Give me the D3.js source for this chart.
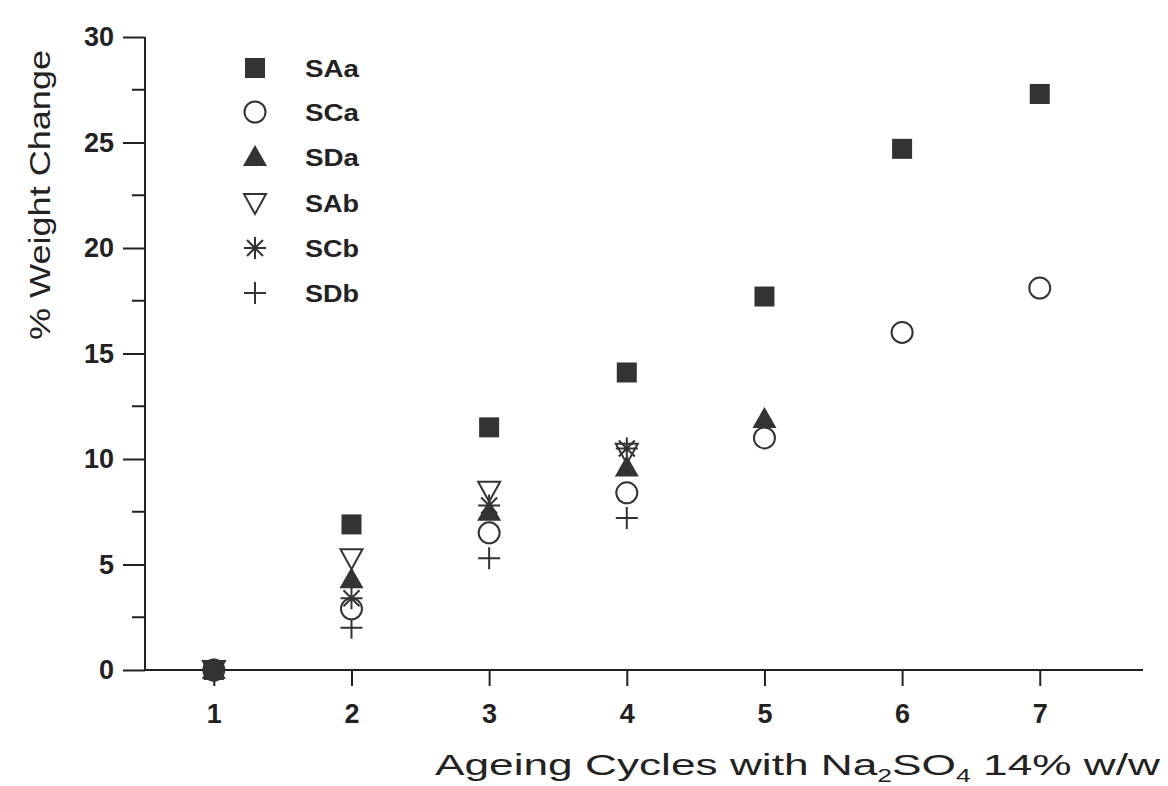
<!DOCTYPE html>
<html><head><meta charset="utf-8">
<script src="https://cdn.jsdelivr.net/npm/d3@7"></script>
<style>body{margin:0;background:#fff}svg{display:block}text{font-family:"Liberation Sans",Arial,sans-serif;fill:#222}</style>
</head><body>
<svg id="c" width="1168" height="786"></svg>
<script>
const cycles = [1,2,3,4,5,6,7];
const SAa = [0, 6.9, 11.5, 14.1, 17.7, 24.7, 27.3];
const SCa = [0, 2.9, 6.5, 8.4, 11.0, 16.0, 18.1];
const SDa = [0, 4.3, 7.5, 9.6, 11.9];
const SAb = [0, 5.3, 8.5, 10.3];
const SCb = [0, 3.4, 7.8, 10.5];
const SDb = [0, 2.0, 5.3, 7.2];
const seriesNames = ["SAa","SCa","SDa","SAb","SCb","SDb"];
const seriesVals = [SAa,SCa,SDa,SAb,SCb,SDb];
const yTicks = [0,5,10,15,20,25,30];

const svg = d3.select("#c");
const x = d3.scaleLinear().domain([0.5, 7.75]).range([145, 1143]);
const y = d3.scaleLinear().domain([0, 30]).range([670, 37]);

// axes
const yAxis = d3.axisLeft(y).tickValues(yTicks).tickSize(22).tickPadding(9);
const gy = svg.append("g").attr("transform","translate(145,0)").call(yAxis);
gy.attr("font-size",null).attr("font-family",null);
gy.select(".domain").attr("stroke","#222").attr("stroke-width",2).attr("d","M0,37V670");
gy.selectAll(".tick line").attr("stroke","#222").attr("stroke-width",2);
gy.selectAll(".tick text").style("font-size","27px").style("font-weight","bold").style("fill","#222");
const minor = d3.range(2.5, 30, 5);
gy.selectAll(".minor").data(minor).enter().append("line")
  .attr("x1",-13).attr("x2",0).attr("y1",d=>y(d)).attr("y2",d=>y(d))
  .attr("stroke","#222").attr("stroke-width",2);

const xAxis = d3.axisBottom(x).tickValues(cycles).tickSize(16).tickPadding(18).tickFormat(d3.format("d"));
const gx = svg.append("g").attr("transform","translate(0,670)").call(xAxis);
gx.attr("font-size",null).attr("font-family",null);
gx.select(".domain").attr("stroke","#222").attr("stroke-width",2).attr("d","M145,0H1143");
gx.selectAll(".tick line").attr("stroke","#222").attr("stroke-width",2);
gx.selectAll(".tick text").style("font-size","27px").style("font-weight","bold").style("fill","#222");

// titles
svg.append("text").attr("transform","translate(50,195) rotate(-90)")
  .attr("text-anchor","middle").attr("font-size",30)
  .attr("textLength",290).attr("lengthAdjust","spacingAndGlyphs").text("% Weight Change");
const xt = svg.append("text").attr("x",435).attr("y",775).attr("font-size",30)
  .attr("textLength",725).attr("lengthAdjust","spacingAndGlyphs");
xt.append("tspan").text("Ageing Cycles with Na");
xt.append("tspan").attr("font-size",18).attr("dy",7).text("2");
xt.append("tspan").attr("dy",-7).text("SO");
xt.append("tspan").attr("font-size",18).attr("dy",7).text("4");
xt.append("tspan").attr("dy",-7).text(" 14% w/w");

// markers
function drawMarker(g, i){
  const c = "#333";
  switch(i){
    case 0: g.append("rect").attr("x",-10).attr("y",-10).attr("width",20).attr("height",20).attr("fill","#333"); break;
    case 1: g.append("circle").attr("r",10.5).attr("fill","#fff").attr("stroke",c).attr("stroke-width",2); break;
    case 2: g.append("path").attr("d","M0,-12L12,9L-12,9Z").attr("fill","#333"); break;
    case 3: g.append("path").attr("d","M-11,-9L11,-9L0,11Z").attr("fill","none").attr("stroke",c).attr("stroke-width",2); break;
    case 4: g.append("path").attr("d","M0,-11V11M-11,0H11M-8,-8L8,8M-8,8L8,-8").attr("stroke",c).attr("stroke-width",2); break;
    case 5: g.append("path").attr("d","M0,-11V11M-11,0H11").attr("stroke",c).attr("stroke-width",2); break;
  }
}
const order = [5,1,4,2,3,0];
order.forEach(i=>{
  seriesVals[i].forEach((v,j)=>{
    const g = svg.append("g").attr("transform",`translate(${x(cycles[j])},${y(v)})`);
    drawMarker(g,i);
  });
});

// legend
const ly = [68,112,157,203,248,293];
seriesNames.forEach((n,i)=>{
  const g = svg.append("g").attr("transform",`translate(255,${ly[i]})`);
  drawMarker(g,i);
  svg.append("text").attr("x",305).attr("y",ly[i]+9).attr("font-size",24).attr("font-weight","bold")
    .attr("textLength",54).attr("lengthAdjust","spacingAndGlyphs").text(n);
});
</script>
</body></html>
